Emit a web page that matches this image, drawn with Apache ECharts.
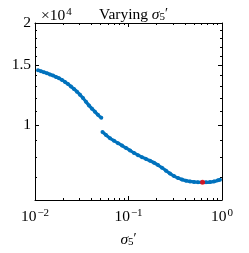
<!DOCTYPE html>
<html>
<head>
<meta charset="utf-8">
<script src="https://cdn.jsdelivr.net/npm/echarts@6/dist/echarts.min.js"></script>
<style>
html,body{margin:0;padding:0;background:#fff;}
#c{width:249px;height:253px;}
</style>
</head>
<body>
<div id="c"></div>
<script>
// ---- data ----
const sigmaSeg1 = [0.01077,0.01159,0.01248,0.01344,0.01447,0.01558,0.01677,0.01805,0.01944,0.02093,0.02253,0.02426,0.02612,0.02812,0.03028,0.03259,0.03509,0.03778,0.04068,0.04379,0.04714,0.05118];
const costSeg1  = [14500,14410,14310,14210,14100,13990,13860,13730,13580,13400,13200,12990,12770,12540,12280,12010,11700,11420,11170,10940,10710,10500];
const sigmaSeg2 = [0.05272,0.05744,0.06341,0.0700,0.07722,0.08521,0.09403,0.1038,0.1145,0.1264,0.1394,0.1539,0.1698,0.1874,0.2068,0.2282,0.2518,0.2779,0.3066,0.3384,0.3734,0.4120,0.4547,0.5018,0.5537,0.6110,0.6743,0.7441,0.8211,0.9061,0.9520];
const costSeg2  = [9525,9336,9133,8981,8830,8688,8547,8404,8264,8141,8031,7933,7836,7730,7611,7470,7326,7180,7060,6965,6893,6844,6808,6786,6773,6768,6768,6777,6808,6857,6888];
const optSigma = [0.62];
const optCost  = [6765];
// axis ticks
const xMajorExp = [-2, -1, 0];
const xMinorMult = [2,3,4,5,6,7,8,9];
const yLabelVals = [10000, 15000, 20000];
const yMinorVals = [6000,7000,8000,9000,11000,12000,13000,14000,16000,17000,18000,19000];
const xMin = 0.01, xMax = 1, yMin = 6000, yMax = 20000;

const L = Math.log10;
const xMajorT = xMajorExp.slice();
const xMinorT = [];
for (let e = -2; e < 0; e++) for (const m of xMinorMult) xMinorT.push(L(m * Math.pow(10, e)));
const yMajorT = yLabelVals.map(L);
const yMinorT = yMinorVals.map(L);

const FONT = 'Liberation Serif';
const supRich = {
  b: {fontFamily: FONT, fontSize: 15.5, color: '#000', lineHeight: 17},
  s: {fontFamily: FONT, fontSize: 11, color: '#000', lineHeight: 11, verticalAlign: 'top', padding: [0,0,0,1]}
};
const sigRich = {
  b: {fontFamily: FONT, fontSize: 15.5, color: '#000', lineHeight: 17},
  i: {fontFamily: FONT, fontSize: 15.5, fontStyle: 'italic', color: '#000', lineHeight: 17},
  sub: {fontFamily: FONT, fontSize: 11, color: '#000', lineHeight: 17, verticalAlign: 'bottom', padding: [6,0,0,0]},
  p: {fontFamily: FONT, fontSize: 14, color: '#000', lineHeight: 17}
};

const grid = {left: 35, right: 27, top: 23, bottom: 44, containLabel: false};

function helperX(pos, ticks, len, withLine, withLabels) {
  return {
    type: 'value', position: pos, min: L(xMin), max: L(xMax), gridIndex: 0,
    axisLine: {show: withLine, onZero: false, lineStyle: {color: '#000', width: 1}},
    axisTick: {show: true, inside: true, length: len, customValues: ticks, lineStyle: {color: '#000', width: 1}},
    axisLabel: withLabels ? {
      show: true, customValues: xMajorT, margin: 8,
      formatter: v => '{b|10}{s|' + String(Math.round(v)).replace('-', '\u2212') + '}',
      rich: supRich
    } : {show: false},
    splitLine: {show: false},
    name: withLabels ? '{i|σ}{sub|5}{p|′}' : '',
    nameLocation: 'middle', nameGap: 31,
    nameTextStyle: {rich: sigRich}
  };
}
function helperY(pos, ticks, len, withLine, withLabels) {
  return {
    type: 'value', position: pos, min: L(yMin), max: L(yMax), gridIndex: 0,
    axisLine: {show: withLine, onZero: false, lineStyle: {color: '#000', width: 1}},
    axisTick: {show: true, inside: true, length: len, customValues: ticks, lineStyle: {color: '#000', width: 1}},
    axisLabel: withLabels ? {
      show: true, customValues: yMajorT, margin: 4,
      fontFamily: FONT, fontSize: 15.5, color: '#000',
      formatter: v => String(Math.round(Math.pow(10, v) / 1000) / 10)
    } : {show: false},
    splitLine: {show: false}
  };
}

const chart = echarts.init(document.getElementById('c'), null, {renderer: 'canvas'});
chart.setOption({
  animation: false,
  backgroundColor: '#fff',
  title: [
    {text: 'Varying {i|σ}{sub|5}{p|′}', left: 128.5, textAlign: 'center', top: 1,
     textStyle: {fontFamily: FONT, fontSize: 15.5, fontWeight: 'normal', color: '#000', rich: sigRich}},
    {text: '{b|×10}{s|4}', left: 36, top: 2,
     textStyle: {fontFamily: FONT, fontSize: 15.5, fontWeight: 'normal', color: '#000', rich: supRich}}
  ],
  grid: grid,
  xAxis: [
    {type: 'log', logBase: 10, min: xMin, max: xMax, show: false, gridIndex: 0},
    helperX('bottom', xMajorT, 4, true, true),
    helperX('bottom', xMinorT, 2, false, false),
    helperX('top', xMajorT, 4, true, false),
    helperX('top', xMinorT, 2, false, false)
  ],
  yAxis: [
    {type: 'log', logBase: 10, min: yMin, max: yMax, show: false, gridIndex: 0},
    helperY('left', yMajorT, 4, true, true),
    helperY('left', yMinorT, 2, false, false),
    helperY('right', yMajorT, 4, true, false),
    helperY('right', yMinorT, 2, false, false)
  ],
  series: [
    {type: 'line', xAxisIndex: 0, yAxisIndex: 0, data: sigmaSeg1.map((x, i) => [x, costSeg1[i]]),
     smooth: 0.3, symbol: 'circle', symbolSize: 4, showSymbol: true,
     itemStyle: {color: '#0072BD'}, lineStyle: {color: '#0072BD', width: 3.2}, z: 3},
    {type: 'line', xAxisIndex: 0, yAxisIndex: 0, data: sigmaSeg2.map((x, i) => [x, costSeg2[i]]),
     smooth: 0.3, symbol: 'circle', symbolSize: 4, showSymbol: true,
     itemStyle: {color: '#0072BD'}, lineStyle: {color: '#0072BD', width: 3.2}, z: 3},
    {type: 'scatter', xAxisIndex: 0, yAxisIndex: 0, data: optSigma.map((x, i) => [x, optCost[i]]),
     symbol: 'circle', symbolSize: 5, itemStyle: {color: '#FF0000'}, z: 5}
  ]
});
</script>
</body>
</html>
